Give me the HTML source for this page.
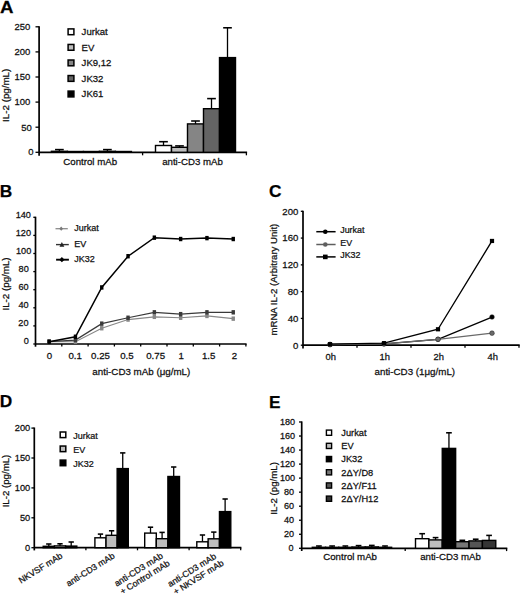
<!DOCTYPE html>
<html><head><meta charset="utf-8"><style>
html,body{margin:0;padding:0;background:#fff;}
body{width:520px;height:595px;overflow:hidden;}
svg{display:block;font-family:"Liberation Sans", sans-serif;}
text{stroke:#111;stroke-width:0.25px;}
</style></head><body>
<svg width="520" height="595" viewBox="0 0 520 595">
<rect x="0" y="0" width="520" height="595" fill="#fff"/>
<text transform="translate(0.10,12.70) scale(1.08,1)" font-size="17.3" font-weight="bold" fill="#000">A</text>
<line x1="39.10" y1="155.80" x2="39.10" y2="26.20" stroke="#000" stroke-width="1.7" />
<line x1="35.50" y1="152.30" x2="39.10" y2="152.30" stroke="#000" stroke-width="1.3" />
<text transform="translate(33.50,155.39) scale(1.03,1)" font-size="9.2" text-anchor="end" font-weight="normal" fill="#111">0</text>
<line x1="35.50" y1="127.20" x2="39.10" y2="127.20" stroke="#000" stroke-width="1.3" />
<text transform="translate(31.90,131.09) scale(1.03,1)" font-size="9.2" text-anchor="end" font-weight="normal" fill="#111">50</text>
<line x1="35.50" y1="102.10" x2="39.10" y2="102.10" stroke="#000" stroke-width="1.3" />
<text transform="translate(30.30,105.39) scale(1.03,1)" font-size="9.2" text-anchor="end" font-weight="normal" fill="#111">100</text>
<line x1="35.50" y1="77.00" x2="39.10" y2="77.00" stroke="#000" stroke-width="1.3" />
<text transform="translate(30.30,80.29) scale(1.03,1)" font-size="9.2" text-anchor="end" font-weight="normal" fill="#111">150</text>
<line x1="35.50" y1="51.90" x2="39.10" y2="51.90" stroke="#000" stroke-width="1.3" />
<text transform="translate(30.30,55.19) scale(1.03,1)" font-size="9.2" text-anchor="end" font-weight="normal" fill="#111">200</text>
<line x1="35.50" y1="26.80" x2="39.10" y2="26.80" stroke="#000" stroke-width="1.3" />
<text transform="translate(30.30,30.09) scale(1.03,1)" font-size="9.2" text-anchor="end" font-weight="normal" fill="#111">250</text>
<line x1="39.10" y1="152.30" x2="247.10" y2="152.30" stroke="#000" stroke-width="1.7" />
<line x1="142.60" y1="152.30" x2="142.60" y2="155.30" stroke="#000" stroke-width="1.3" />
<line x1="246.40" y1="152.30" x2="246.40" y2="155.30" stroke="#000" stroke-width="1.3" />
<text transform="translate(8.90,95.30) rotate(-90) scale(1.03,1)" font-size="9.5" text-anchor="middle" fill="#111">IL-2 (pg/mL)</text>
<text transform="translate(90.20,165.20) scale(1.03,1)" font-size="9.4" text-anchor="middle" font-weight="normal" fill="#111">Control mAb</text>
<text transform="translate(192.50,165.20) scale(1.03,1)" font-size="9.4" text-anchor="middle" font-weight="normal" fill="#111">anti-CD3 mAb</text>
<line x1="59.40" y1="151.30" x2="59.40" y2="149.60" stroke="#000" stroke-width="1.3" />
<line x1="55.05" y1="149.60" x2="63.75" y2="149.60" stroke="#000" stroke-width="1.56" />
<rect x="51.40" y="151.30" width="16.00" height="1.00" fill="#ffffff" stroke="#000" stroke-width="1.4"/>
<rect x="67.40" y="151.50" width="16.00" height="0.80" fill="#bdbdbd" stroke="#000" stroke-width="1.4"/>
<rect x="83.40" y="151.50" width="16.00" height="0.80" fill="#858585" stroke="#000" stroke-width="1.4"/>
<line x1="107.40" y1="151.30" x2="107.40" y2="149.60" stroke="#000" stroke-width="1.3" />
<line x1="103.05" y1="149.60" x2="111.75" y2="149.60" stroke="#000" stroke-width="1.56" />
<rect x="99.40" y="151.30" width="16.00" height="1.00" fill="#646464" stroke="#000" stroke-width="1.4"/>
<rect x="115.40" y="151.50" width="16.00" height="0.80" fill="#000000" stroke="#000" stroke-width="1.4"/>
<line x1="163.50" y1="145.50" x2="163.50" y2="141.70" stroke="#000" stroke-width="1.3" />
<line x1="159.15" y1="141.70" x2="167.85" y2="141.70" stroke="#000" stroke-width="1.56" />
<rect x="155.50" y="145.50" width="16.00" height="6.80" fill="#ffffff" stroke="#000" stroke-width="1.4"/>
<line x1="179.50" y1="147.30" x2="179.50" y2="145.90" stroke="#000" stroke-width="1.3" />
<line x1="175.15" y1="145.90" x2="183.85" y2="145.90" stroke="#000" stroke-width="1.56" />
<rect x="171.50" y="147.30" width="16.00" height="5.00" fill="#bdbdbd" stroke="#000" stroke-width="1.4"/>
<line x1="195.50" y1="123.90" x2="195.50" y2="121.00" stroke="#000" stroke-width="1.3" />
<line x1="191.15" y1="121.00" x2="199.85" y2="121.00" stroke="#000" stroke-width="1.56" />
<rect x="187.50" y="123.90" width="16.00" height="28.40" fill="#858585" stroke="#000" stroke-width="1.4"/>
<line x1="211.50" y1="108.70" x2="211.50" y2="98.60" stroke="#000" stroke-width="1.3" />
<line x1="207.15" y1="98.60" x2="215.85" y2="98.60" stroke="#000" stroke-width="1.56" />
<rect x="203.50" y="108.70" width="16.00" height="43.60" fill="#646464" stroke="#000" stroke-width="1.4"/>
<line x1="227.50" y1="57.60" x2="227.50" y2="27.80" stroke="#000" stroke-width="1.3" />
<line x1="223.15" y1="27.80" x2="231.85" y2="27.80" stroke="#000" stroke-width="1.56" />
<rect x="219.50" y="57.60" width="16.00" height="94.70" fill="#000000" stroke="#000" stroke-width="1.4"/>
<rect x="68.10" y="28.90" width="5.80" height="5.80" fill="#ffffff" stroke="#000" stroke-width="1.5"/>
<text transform="translate(81.60,35.10) scale(1.03,1)" font-size="9.3" text-anchor="start" font-weight="normal" fill="#111">Jurkat</text>
<rect x="68.10" y="44.45" width="5.80" height="5.80" fill="#bdbdbd" stroke="#000" stroke-width="1.5"/>
<text transform="translate(81.60,50.65) scale(1.03,1)" font-size="9.3" text-anchor="start" font-weight="normal" fill="#111">EV</text>
<rect x="68.10" y="60.00" width="5.80" height="5.80" fill="#858585" stroke="#000" stroke-width="1.5"/>
<text transform="translate(81.60,66.20) scale(1.03,1)" font-size="9.3" text-anchor="start" font-weight="normal" fill="#111">JK9,12</text>
<rect x="68.10" y="75.55" width="5.80" height="5.80" fill="#646464" stroke="#000" stroke-width="1.5"/>
<text transform="translate(81.60,81.75) scale(1.03,1)" font-size="9.3" text-anchor="start" font-weight="normal" fill="#111">JK32</text>
<rect x="68.10" y="91.10" width="5.80" height="5.80" fill="#000000" stroke="#000" stroke-width="1.5"/>
<text transform="translate(81.60,97.30) scale(1.03,1)" font-size="9.3" text-anchor="start" font-weight="normal" fill="#111">JK61</text>
<text transform="translate(-0.20,197.20) scale(1.0,1)" font-size="17.3" font-weight="bold" fill="#000">B</text>
<line x1="35.50" y1="346.70" x2="35.50" y2="216.70" stroke="#000" stroke-width="1.7" />
<line x1="33.30" y1="344.00" x2="35.50" y2="344.00" stroke="#000" stroke-width="1.3" />
<text transform="translate(28.90,344.40) scale(1.03,1)" font-size="8.9" text-anchor="end" font-weight="normal" fill="#111">0</text>
<line x1="33.30" y1="325.90" x2="35.50" y2="325.90" stroke="#000" stroke-width="1.3" />
<text transform="translate(28.50,326.30) scale(1.03,1)" font-size="8.9" text-anchor="end" font-weight="normal" fill="#111">20</text>
<line x1="33.30" y1="307.80" x2="35.50" y2="307.80" stroke="#000" stroke-width="1.3" />
<text transform="translate(28.60,308.20) scale(1.03,1)" font-size="8.9" text-anchor="end" font-weight="normal" fill="#111">40</text>
<line x1="33.30" y1="289.70" x2="35.50" y2="289.70" stroke="#000" stroke-width="1.3" />
<text transform="translate(28.70,290.10) scale(1.03,1)" font-size="8.9" text-anchor="end" font-weight="normal" fill="#111">60</text>
<line x1="33.30" y1="271.60" x2="35.50" y2="271.60" stroke="#000" stroke-width="1.3" />
<text transform="translate(28.80,272.00) scale(1.03,1)" font-size="8.9" text-anchor="end" font-weight="normal" fill="#111">80</text>
<line x1="33.30" y1="253.50" x2="35.50" y2="253.50" stroke="#000" stroke-width="1.3" />
<text transform="translate(31.30,253.90) scale(1.03,1)" font-size="8.9" text-anchor="end" font-weight="normal" fill="#111">100</text>
<line x1="33.30" y1="235.40" x2="35.50" y2="235.40" stroke="#000" stroke-width="1.3" />
<text transform="translate(31.00,235.80) scale(1.03,1)" font-size="8.9" text-anchor="end" font-weight="normal" fill="#111">120</text>
<line x1="33.30" y1="217.30" x2="35.50" y2="217.30" stroke="#000" stroke-width="1.3" />
<text transform="translate(30.90,217.70) scale(1.03,1)" font-size="8.9" text-anchor="end" font-weight="normal" fill="#111">140</text>
<line x1="35.50" y1="344.00" x2="246.60" y2="344.00" stroke="#000" stroke-width="1.7" />
<line x1="61.80" y1="344.00" x2="61.80" y2="346.50" stroke="#000" stroke-width="1.3" />
<line x1="88.10" y1="344.00" x2="88.10" y2="346.50" stroke="#000" stroke-width="1.3" />
<line x1="114.40" y1="344.00" x2="114.40" y2="346.50" stroke="#000" stroke-width="1.3" />
<line x1="140.70" y1="344.00" x2="140.70" y2="346.50" stroke="#000" stroke-width="1.3" />
<line x1="167.00" y1="344.00" x2="167.00" y2="346.50" stroke="#000" stroke-width="1.3" />
<line x1="193.30" y1="344.00" x2="193.30" y2="346.50" stroke="#000" stroke-width="1.3" />
<line x1="219.60" y1="344.00" x2="219.60" y2="346.50" stroke="#000" stroke-width="1.3" />
<line x1="245.90" y1="344.00" x2="245.90" y2="346.50" stroke="#000" stroke-width="1.3" />
<text transform="translate(9.20,284.00) rotate(-90) scale(1.03,1)" font-size="9.5" text-anchor="middle" fill="#111">IL-2 (pg/mL)</text>
<text transform="translate(49.50,359.30) scale(1.03,1)" font-size="9.4" text-anchor="middle" font-weight="normal" fill="#111">0</text>
<text transform="translate(75.20,359.30) scale(1.03,1)" font-size="9.4" text-anchor="middle" font-weight="normal" fill="#111">0.1</text>
<text transform="translate(100.50,359.30) scale(1.03,1)" font-size="9.4" text-anchor="middle" font-weight="normal" fill="#111">0.25</text>
<text transform="translate(126.90,359.30) scale(1.03,1)" font-size="9.4" text-anchor="middle" font-weight="normal" fill="#111">0.5</text>
<text transform="translate(155.60,359.30) scale(1.03,1)" font-size="9.4" text-anchor="middle" font-weight="normal" fill="#111">0.75</text>
<text transform="translate(181.30,359.30) scale(1.03,1)" font-size="9.4" text-anchor="middle" font-weight="normal" fill="#111">1</text>
<text transform="translate(208.60,359.30) scale(1.03,1)" font-size="9.4" text-anchor="middle" font-weight="normal" fill="#111">1.5</text>
<text transform="translate(234.40,359.30) scale(1.03,1)" font-size="9.4" text-anchor="middle" font-weight="normal" fill="#111">2</text>
<text transform="translate(141.30,374.70) scale(1.03,1)" font-size="9.5" text-anchor="middle" font-weight="normal" fill="#111">anti-CD3 mAb (μg/mL)</text>
<polyline points="49.15,341.74 75.45,341.74 101.75,328.25 128.05,319.56 154.35,316.85 180.65,317.75 206.95,315.94 233.25,318.66" fill="none" stroke="#888888" stroke-width="1.15"/>
<rect x="47.45" y="339.54" width="3.4" height="4.4" fill="#888888"/>
<rect x="73.75" y="339.54" width="3.4" height="4.4" fill="#888888"/>
<rect x="100.05" y="326.05" width="3.4" height="4.4" fill="#888888"/>
<rect x="126.35" y="317.37" width="3.4" height="4.4" fill="#888888"/>
<rect x="152.65" y="314.65" width="3.4" height="4.4" fill="#888888"/>
<rect x="178.95" y="315.56" width="3.4" height="4.4" fill="#888888"/>
<rect x="205.25" y="313.75" width="3.4" height="4.4" fill="#888888"/>
<rect x="231.55" y="316.46" width="3.4" height="4.4" fill="#888888"/>
<polyline points="49.15,341.74 75.45,340.02 101.75,323.64 128.05,317.75 154.35,312.32 180.65,314.13 206.95,312.32 233.25,312.32" fill="none" stroke="#3a3a3a" stroke-width="1.25"/>
<rect x="47.45" y="339.54" width="3.4" height="4.4" fill="#3a3a3a"/>
<rect x="73.75" y="337.82" width="3.4" height="4.4" fill="#3a3a3a"/>
<rect x="100.05" y="321.44" width="3.4" height="4.4" fill="#3a3a3a"/>
<rect x="126.35" y="315.56" width="3.4" height="4.4" fill="#3a3a3a"/>
<rect x="152.65" y="310.12" width="3.4" height="4.4" fill="#3a3a3a"/>
<rect x="178.95" y="311.94" width="3.4" height="4.4" fill="#3a3a3a"/>
<rect x="205.25" y="310.12" width="3.4" height="4.4" fill="#3a3a3a"/>
<rect x="231.55" y="310.12" width="3.4" height="4.4" fill="#3a3a3a"/>
<polyline points="49.15,341.74 75.45,336.76 101.75,287.44 128.05,256.22 154.35,237.66 180.65,239.02 206.95,238.12 233.25,239.02" fill="none" stroke="#000000" stroke-width="1.5"/>
<rect x="47.45" y="339.54" width="3.4" height="4.4" fill="#000000"/>
<rect x="73.75" y="334.56" width="3.4" height="4.4" fill="#000000"/>
<rect x="100.05" y="285.24" width="3.4" height="4.4" fill="#000000"/>
<rect x="126.35" y="254.02" width="3.4" height="4.4" fill="#000000"/>
<rect x="152.65" y="235.46" width="3.4" height="4.4" fill="#000000"/>
<rect x="178.95" y="236.82" width="3.4" height="4.4" fill="#000000"/>
<rect x="205.25" y="235.92" width="3.4" height="4.4" fill="#000000"/>
<rect x="231.55" y="236.82" width="3.4" height="4.4" fill="#000000"/>
<line x1="55.50" y1="228.70" x2="67.80" y2="228.70" stroke="#8c8c8c" stroke-width="1.3" />
<path d="M61.2,226.6 L63.1,228.7 L61.2,230.8 L59.3,228.7 Z" fill="#7a7a7a"/>
<line x1="56.00" y1="244.60" x2="68.80" y2="244.60" stroke="#333" stroke-width="1.4" />
<path d="M61.9,242.0 L64.3,246.8 L59.5,246.8 Z" fill="#222"/>
<line x1="56.10" y1="259.70" x2="68.90" y2="259.70" stroke="#000" stroke-width="1.9" />
<path d="M61.9,257.1 L64.5,259.7 L61.9,262.3 L59.3,259.7 Z" fill="#000"/>
<text transform="translate(74.30,231.00) scale(1.0,1)" font-size="9.0" text-anchor="start" font-weight="normal" fill="#111">Jurkat</text>
<text transform="translate(74.30,246.90) scale(1.0,1)" font-size="9.0" text-anchor="start" font-weight="normal" fill="#111">EV</text>
<text transform="translate(74.30,261.90) scale(1.0,1)" font-size="9.0" text-anchor="start" font-weight="normal" fill="#111">JK32</text>
<text transform="translate(269.00,197.20) scale(1.0,1)" font-size="17.3" font-weight="bold" fill="#000">C</text>
<line x1="303.00" y1="348.50" x2="303.00" y2="210.70" stroke="#000" stroke-width="1.7" />
<line x1="300.80" y1="345.20" x2="303.00" y2="345.20" stroke="#000" stroke-width="1.3" />
<text transform="translate(298.30,348.53) scale(1.03,1)" font-size="9.3" text-anchor="end" font-weight="normal" fill="#111">0</text>
<line x1="300.80" y1="318.42" x2="303.00" y2="318.42" stroke="#000" stroke-width="1.3" />
<text transform="translate(298.30,321.75) scale(1.03,1)" font-size="9.3" text-anchor="end" font-weight="normal" fill="#111">40</text>
<line x1="300.80" y1="291.64" x2="303.00" y2="291.64" stroke="#000" stroke-width="1.3" />
<text transform="translate(298.30,294.97) scale(1.03,1)" font-size="9.3" text-anchor="end" font-weight="normal" fill="#111">80</text>
<line x1="300.80" y1="264.86" x2="303.00" y2="264.86" stroke="#000" stroke-width="1.3" />
<text transform="translate(298.30,268.19) scale(1.03,1)" font-size="9.3" text-anchor="end" font-weight="normal" fill="#111">120</text>
<line x1="300.80" y1="238.08" x2="303.00" y2="238.08" stroke="#000" stroke-width="1.3" />
<text transform="translate(298.30,241.41) scale(1.03,1)" font-size="9.3" text-anchor="end" font-weight="normal" fill="#111">160</text>
<line x1="300.80" y1="211.30" x2="303.00" y2="211.30" stroke="#000" stroke-width="1.3" />
<text transform="translate(298.30,214.63) scale(1.03,1)" font-size="9.3" text-anchor="end" font-weight="normal" fill="#111">200</text>
<line x1="303.00" y1="345.20" x2="519.70" y2="345.20" stroke="#000" stroke-width="1.7" />
<line x1="357.00" y1="345.20" x2="357.00" y2="347.70" stroke="#000" stroke-width="1.3" />
<line x1="411.00" y1="345.20" x2="411.00" y2="347.70" stroke="#000" stroke-width="1.3" />
<line x1="465.00" y1="345.20" x2="465.00" y2="347.70" stroke="#000" stroke-width="1.3" />
<line x1="519.00" y1="345.20" x2="519.00" y2="347.70" stroke="#000" stroke-width="1.3" />
<text transform="translate(277.40,279.60) rotate(-90) scale(1.03,1)" font-size="9.3" text-anchor="middle" fill="#111">mRNA IL-2 (Arbitrary Unit)</text>
<text transform="translate(330.70,360.00) scale(1.03,1)" font-size="9.1" text-anchor="middle" font-weight="normal" fill="#111">0h</text>
<text transform="translate(384.70,360.00) scale(1.03,1)" font-size="9.1" text-anchor="middle" font-weight="normal" fill="#111">1h</text>
<text transform="translate(438.70,360.00) scale(1.03,1)" font-size="9.1" text-anchor="middle" font-weight="normal" fill="#111">2h</text>
<text transform="translate(492.70,360.00) scale(1.03,1)" font-size="9.1" text-anchor="middle" font-weight="normal" fill="#111">4h</text>
<text transform="translate(414.80,375.00) scale(1.03,1)" font-size="9.5" text-anchor="middle" font-weight="normal" fill="#111">anti-CD3 (1μg/mL)</text>
<polyline points="330.00,344.53 384.00,343.86 438.00,339.31 492.00,317.01" fill="none" stroke="#000" stroke-width="1.35"/>
<circle cx="330.00" cy="344.53" r="2.35" fill="#000" stroke="#222" stroke-width="0.5"/>
<circle cx="384.00" cy="343.86" r="2.35" fill="#000" stroke="#222" stroke-width="0.5"/>
<circle cx="438.00" cy="339.31" r="2.35" fill="#000" stroke="#222" stroke-width="0.5"/>
<circle cx="492.00" cy="317.01" r="2.35" fill="#000" stroke="#222" stroke-width="0.5"/>
<polyline points="330.00,344.53 384.00,343.86 438.00,339.31 492.00,333.15" fill="none" stroke="#6a6a6a" stroke-width="1.35"/>
<circle cx="330.00" cy="344.53" r="2.35" fill="#6a6a6a" stroke="#222" stroke-width="0.5"/>
<circle cx="384.00" cy="343.86" r="2.35" fill="#6a6a6a" stroke="#222" stroke-width="0.5"/>
<circle cx="438.00" cy="339.31" r="2.35" fill="#6a6a6a" stroke="#222" stroke-width="0.5"/>
<circle cx="492.00" cy="333.15" r="2.35" fill="#6a6a6a" stroke="#222" stroke-width="0.5"/>
<polyline points="330.00,344.20 384.00,343.19 438.00,329.27 492.00,240.96" fill="none" stroke="#000" stroke-width="1.35"/>
<rect x="327.90" y="342.10" width="4.2" height="4.2" fill="#000"/>
<rect x="381.90" y="341.09" width="4.2" height="4.2" fill="#000"/>
<rect x="435.90" y="327.17" width="4.2" height="4.2" fill="#000"/>
<rect x="489.90" y="238.86" width="4.2" height="4.2" fill="#000"/>
<line x1="316.30" y1="231.70" x2="335.60" y2="231.70" stroke="#000" stroke-width="1.5" />
<circle cx="325.3" cy="231.70" r="2.3" fill="#000"/>
<text transform="translate(340.20,233.00) scale(0.99,1)" font-size="9.0" text-anchor="start" font-weight="normal" fill="#111">Jurkat</text>
<line x1="316.30" y1="244.50" x2="335.60" y2="244.50" stroke="#5e5e5e" stroke-width="1.5" />
<circle cx="325.3" cy="244.50" r="2.3" fill="#5e5e5e"/>
<text transform="translate(340.20,245.80) scale(0.99,1)" font-size="9.0" text-anchor="start" font-weight="normal" fill="#111">EV</text>
<line x1="316.30" y1="256.90" x2="335.60" y2="256.90" stroke="#000" stroke-width="1.5" />
<rect x="323.00" y="254.60" width="4.6" height="4.6" fill="#000"/>
<text transform="translate(340.20,258.20) scale(0.99,1)" font-size="9.0" text-anchor="start" font-weight="normal" fill="#111">JK32</text>
<text transform="translate(-0.30,407.40) scale(1.0,1)" font-size="17.3" font-weight="bold" fill="#000">D</text>
<line x1="34.30" y1="550.40" x2="34.30" y2="427.50" stroke="#000" stroke-width="1.7" />
<line x1="31.40" y1="547.70" x2="34.30" y2="547.70" stroke="#000" stroke-width="1.3" />
<text transform="translate(30.20,550.92) scale(1.03,1)" font-size="9.0" text-anchor="end" font-weight="normal" fill="#111">0</text>
<line x1="31.40" y1="517.80" x2="34.30" y2="517.80" stroke="#000" stroke-width="1.3" />
<text transform="translate(30.20,521.02) scale(1.03,1)" font-size="9.0" text-anchor="end" font-weight="normal" fill="#111">50</text>
<line x1="31.40" y1="487.90" x2="34.30" y2="487.90" stroke="#000" stroke-width="1.3" />
<text transform="translate(30.20,491.12) scale(1.03,1)" font-size="9.0" text-anchor="end" font-weight="normal" fill="#111">100</text>
<line x1="31.40" y1="458.00" x2="34.30" y2="458.00" stroke="#000" stroke-width="1.3" />
<text transform="translate(30.20,461.22) scale(1.03,1)" font-size="9.0" text-anchor="end" font-weight="normal" fill="#111">150</text>
<line x1="31.40" y1="428.10" x2="34.30" y2="428.10" stroke="#000" stroke-width="1.3" />
<text transform="translate(30.20,431.32) scale(1.03,1)" font-size="9.0" text-anchor="end" font-weight="normal" fill="#111">200</text>
<line x1="34.30" y1="547.70" x2="241.40" y2="547.70" stroke="#000" stroke-width="1.7" />
<line x1="85.90" y1="547.70" x2="85.90" y2="550.30" stroke="#000" stroke-width="1.3" />
<line x1="137.50" y1="547.70" x2="137.50" y2="550.30" stroke="#000" stroke-width="1.3" />
<line x1="189.10" y1="547.70" x2="189.10" y2="550.30" stroke="#000" stroke-width="1.3" />
<line x1="240.70" y1="547.70" x2="240.70" y2="550.30" stroke="#000" stroke-width="1.3" />
<text transform="translate(8.50,481.00) rotate(-90) scale(1.03,1)" font-size="9.4" text-anchor="middle" fill="#111">IL-2 (pg/mL)</text>
<line x1="48.80" y1="546.30" x2="48.80" y2="544.00" stroke="#000" stroke-width="1.3" />
<line x1="46.15" y1="544.00" x2="51.45" y2="544.00" stroke="#000" stroke-width="1.56" />
<rect x="43.20" y="546.30" width="11.20" height="1.40" fill="#ffffff" stroke="#000" stroke-width="1.4"/>
<line x1="60.00" y1="545.90" x2="60.00" y2="543.80" stroke="#000" stroke-width="1.3" />
<line x1="57.35" y1="543.80" x2="62.65" y2="543.80" stroke="#000" stroke-width="1.56" />
<rect x="54.40" y="545.90" width="11.20" height="1.80" fill="#bdbdbd" stroke="#000" stroke-width="1.4"/>
<line x1="71.20" y1="546.10" x2="71.20" y2="542.00" stroke="#000" stroke-width="1.3" />
<line x1="68.55" y1="542.00" x2="73.85" y2="542.00" stroke="#000" stroke-width="1.56" />
<rect x="65.60" y="546.10" width="11.20" height="1.60" fill="#000000" stroke="#000" stroke-width="1.4"/>
<line x1="100.47" y1="537.80" x2="100.47" y2="534.10" stroke="#000" stroke-width="1.3" />
<line x1="97.81" y1="534.10" x2="103.12" y2="534.10" stroke="#000" stroke-width="1.56" />
<rect x="94.90" y="537.80" width="11.13" height="9.90" fill="#ffffff" stroke="#000" stroke-width="1.4"/>
<line x1="111.59" y1="535.30" x2="111.59" y2="530.80" stroke="#000" stroke-width="1.3" />
<line x1="108.94" y1="530.80" x2="114.25" y2="530.80" stroke="#000" stroke-width="1.56" />
<rect x="106.03" y="535.30" width="11.13" height="12.40" fill="#bdbdbd" stroke="#000" stroke-width="1.4"/>
<line x1="122.73" y1="468.60" x2="122.73" y2="452.90" stroke="#000" stroke-width="1.3" />
<line x1="120.08" y1="452.90" x2="125.38" y2="452.90" stroke="#000" stroke-width="1.56" />
<rect x="117.16" y="468.60" width="11.13" height="79.10" fill="#000000" stroke="#000" stroke-width="1.4"/>
<line x1="150.50" y1="533.10" x2="150.50" y2="527.20" stroke="#000" stroke-width="1.3" />
<line x1="147.85" y1="527.20" x2="153.15" y2="527.20" stroke="#000" stroke-width="1.56" />
<rect x="144.70" y="533.10" width="11.60" height="14.60" fill="#ffffff" stroke="#000" stroke-width="1.4"/>
<line x1="162.10" y1="538.70" x2="162.10" y2="532.40" stroke="#000" stroke-width="1.3" />
<line x1="159.45" y1="532.40" x2="164.75" y2="532.40" stroke="#000" stroke-width="1.56" />
<rect x="156.30" y="538.70" width="11.60" height="9.00" fill="#bdbdbd" stroke="#000" stroke-width="1.4"/>
<line x1="173.70" y1="476.50" x2="173.70" y2="467.00" stroke="#000" stroke-width="1.3" />
<line x1="171.05" y1="467.00" x2="176.35" y2="467.00" stroke="#000" stroke-width="1.56" />
<rect x="167.90" y="476.50" width="11.60" height="71.20" fill="#000000" stroke="#000" stroke-width="1.4"/>
<line x1="202.47" y1="541.80" x2="202.47" y2="535.00" stroke="#000" stroke-width="1.3" />
<line x1="199.81" y1="535.00" x2="205.12" y2="535.00" stroke="#000" stroke-width="1.56" />
<rect x="196.80" y="541.80" width="11.33" height="5.90" fill="#ffffff" stroke="#000" stroke-width="1.4"/>
<line x1="213.80" y1="538.80" x2="213.80" y2="532.10" stroke="#000" stroke-width="1.3" />
<line x1="211.15" y1="532.10" x2="216.45" y2="532.10" stroke="#000" stroke-width="1.56" />
<rect x="208.13" y="538.80" width="11.33" height="8.90" fill="#bdbdbd" stroke="#000" stroke-width="1.4"/>
<line x1="225.12" y1="511.60" x2="225.12" y2="499.00" stroke="#000" stroke-width="1.3" />
<line x1="222.47" y1="499.00" x2="227.78" y2="499.00" stroke="#000" stroke-width="1.56" />
<rect x="219.46" y="511.60" width="11.33" height="36.10" fill="#000000" stroke="#000" stroke-width="1.4"/>
<rect x="60.20" y="432.00" width="5.60" height="5.60" fill="#ffffff" stroke="#000" stroke-width="1.5"/>
<text transform="translate(73.20,438.50) scale(0.99,1)" font-size="9.1" text-anchor="start" font-weight="normal" fill="#111">Jurkat</text>
<rect x="60.20" y="446.05" width="5.60" height="5.60" fill="#bdbdbd" stroke="#000" stroke-width="1.5"/>
<text transform="translate(73.20,452.55) scale(0.99,1)" font-size="9.1" text-anchor="start" font-weight="normal" fill="#111">EV</text>
<rect x="60.20" y="460.10" width="5.60" height="5.60" fill="#000000" stroke="#000" stroke-width="1.5"/>
<text transform="translate(73.20,466.60) scale(0.99,1)" font-size="9.1" text-anchor="start" font-weight="normal" fill="#111">JK32</text>
<text transform="translate(20.90,583.80) rotate(-32)" x="0" y="0" font-size="8.8" fill="#111">NKVSF mAb</text>
<text transform="translate(68.50,586.80) rotate(-32)" x="0" y="0" font-size="8.8" fill="#111">anti-CD3 mAb</text>
<text transform="translate(116.70,586.80) rotate(-32)" x="0" y="0" font-size="8.8" fill="#111">anti-CD3 mAb</text>
<text transform="translate(122.40,594.80) rotate(-32)" x="0" y="0" font-size="8.8" fill="#111">+ Control mAb</text>
<text transform="translate(170.00,587.30) rotate(-32)" x="0" y="0" font-size="8.8" fill="#111">anti-CD3 mAb</text>
<text transform="translate(175.70,595.10) rotate(-32)" x="0" y="0" font-size="8.8" fill="#111">+ NKVSF mAb</text>
<text transform="translate(269.00,407.50) scale(1.0,1)" font-size="17.3" font-weight="bold" fill="#000">E</text>
<line x1="301.70" y1="551.00" x2="301.70" y2="421.39" stroke="#000" stroke-width="1.7" />
<line x1="299.00" y1="548.30" x2="301.70" y2="548.30" stroke="#000" stroke-width="1.3" />
<text transform="translate(293.60,551.05) scale(1.03,1)" font-size="8.8" text-anchor="end" font-weight="normal" fill="#111">0</text>
<line x1="299.00" y1="534.27" x2="301.70" y2="534.27" stroke="#000" stroke-width="1.3" />
<text transform="translate(294.00,537.02) scale(1.03,1)" font-size="8.8" text-anchor="end" font-weight="normal" fill="#111">20</text>
<line x1="299.00" y1="520.23" x2="301.70" y2="520.23" stroke="#000" stroke-width="1.3" />
<text transform="translate(294.00,522.98) scale(1.03,1)" font-size="8.8" text-anchor="end" font-weight="normal" fill="#111">40</text>
<line x1="299.00" y1="506.20" x2="301.70" y2="506.20" stroke="#000" stroke-width="1.3" />
<text transform="translate(294.00,508.95) scale(1.03,1)" font-size="8.8" text-anchor="end" font-weight="normal" fill="#111">60</text>
<line x1="299.00" y1="492.16" x2="301.70" y2="492.16" stroke="#000" stroke-width="1.3" />
<text transform="translate(294.00,494.91) scale(1.03,1)" font-size="8.8" text-anchor="end" font-weight="normal" fill="#111">80</text>
<line x1="299.00" y1="478.13" x2="301.70" y2="478.13" stroke="#000" stroke-width="1.3" />
<text transform="translate(295.00,480.88) scale(1.03,1)" font-size="8.8" text-anchor="end" font-weight="normal" fill="#111">100</text>
<line x1="299.00" y1="464.10" x2="301.70" y2="464.10" stroke="#000" stroke-width="1.3" />
<text transform="translate(295.00,466.85) scale(1.03,1)" font-size="8.8" text-anchor="end" font-weight="normal" fill="#111">120</text>
<line x1="299.00" y1="450.06" x2="301.70" y2="450.06" stroke="#000" stroke-width="1.3" />
<text transform="translate(295.00,452.81) scale(1.03,1)" font-size="8.8" text-anchor="end" font-weight="normal" fill="#111">140</text>
<line x1="299.00" y1="436.03" x2="301.70" y2="436.03" stroke="#000" stroke-width="1.3" />
<text transform="translate(295.00,438.78) scale(1.03,1)" font-size="8.8" text-anchor="end" font-weight="normal" fill="#111">160</text>
<line x1="299.00" y1="421.99" x2="301.70" y2="421.99" stroke="#000" stroke-width="1.3" />
<text transform="translate(295.00,424.74) scale(1.03,1)" font-size="8.8" text-anchor="end" font-weight="normal" fill="#111">180</text>
<line x1="301.70" y1="548.30" x2="507.30" y2="548.30" stroke="#000" stroke-width="1.7" />
<line x1="405.20" y1="548.30" x2="405.20" y2="551.10" stroke="#000" stroke-width="1.3" />
<line x1="506.60" y1="548.30" x2="506.60" y2="551.10" stroke="#000" stroke-width="1.3" />
<text transform="translate(277.00,488.40) rotate(-90) scale(1.03,1)" font-size="9.4" text-anchor="middle" fill="#111">IL-2 (pg/mL)</text>
<text transform="translate(350.10,560.40) scale(1.03,1)" font-size="9.4" text-anchor="middle" font-weight="normal" fill="#111">Control mAb</text>
<text transform="translate(450.50,560.40) scale(1.03,1)" font-size="9.4" text-anchor="middle" font-weight="normal" fill="#111">anti-CD3 mAb</text>
<line x1="318.91" y1="547.30" x2="318.91" y2="546.00" stroke="#000" stroke-width="1.3" />
<line x1="316.06" y1="546.00" x2="321.76" y2="546.00" stroke="#000" stroke-width="1.56" />
<rect x="312.30" y="547.30" width="13.22" height="1.00" fill="#ffffff" stroke="#000" stroke-width="1.4"/>
<line x1="332.13" y1="547.30" x2="332.13" y2="546.00" stroke="#000" stroke-width="1.3" />
<line x1="329.28" y1="546.00" x2="334.98" y2="546.00" stroke="#000" stroke-width="1.56" />
<rect x="325.52" y="547.30" width="13.22" height="1.00" fill="#bdbdbd" stroke="#000" stroke-width="1.4"/>
<line x1="345.35" y1="547.30" x2="345.35" y2="546.00" stroke="#000" stroke-width="1.3" />
<line x1="342.50" y1="546.00" x2="348.20" y2="546.00" stroke="#000" stroke-width="1.56" />
<rect x="338.74" y="547.30" width="13.22" height="1.00" fill="#000000" stroke="#000" stroke-width="1.4"/>
<line x1="358.57" y1="547.00" x2="358.57" y2="545.60" stroke="#000" stroke-width="1.3" />
<line x1="355.72" y1="545.60" x2="361.42" y2="545.60" stroke="#000" stroke-width="1.56" />
<rect x="351.96" y="547.00" width="13.22" height="1.30" fill="#777777" stroke="#000" stroke-width="1.4"/>
<line x1="371.79" y1="546.90" x2="371.79" y2="545.40" stroke="#000" stroke-width="1.3" />
<line x1="368.94" y1="545.40" x2="374.64" y2="545.40" stroke="#000" stroke-width="1.56" />
<rect x="365.18" y="546.90" width="13.22" height="1.40" fill="#555555" stroke="#000" stroke-width="1.4"/>
<line x1="385.01" y1="547.30" x2="385.01" y2="546.00" stroke="#000" stroke-width="1.3" />
<line x1="382.16" y1="546.00" x2="387.86" y2="546.00" stroke="#000" stroke-width="1.56" />
<rect x="378.40" y="547.30" width="13.22" height="1.00" fill="#353535" stroke="#000" stroke-width="1.4"/>
<line x1="422.19" y1="538.70" x2="422.19" y2="533.70" stroke="#000" stroke-width="1.3" />
<line x1="419.34" y1="533.70" x2="425.04" y2="533.70" stroke="#000" stroke-width="1.56" />
<rect x="415.50" y="538.70" width="13.38" height="9.60" fill="#ffffff" stroke="#000" stroke-width="1.4"/>
<line x1="435.57" y1="539.90" x2="435.57" y2="537.60" stroke="#000" stroke-width="1.3" />
<line x1="432.72" y1="537.60" x2="438.42" y2="537.60" stroke="#000" stroke-width="1.56" />
<rect x="428.88" y="539.90" width="13.38" height="8.40" fill="#bdbdbd" stroke="#000" stroke-width="1.4"/>
<line x1="448.95" y1="448.40" x2="448.95" y2="432.80" stroke="#000" stroke-width="1.3" />
<line x1="446.10" y1="432.80" x2="451.80" y2="432.80" stroke="#000" stroke-width="1.56" />
<rect x="442.26" y="448.40" width="13.38" height="99.90" fill="#000000" stroke="#000" stroke-width="1.4"/>
<line x1="462.33" y1="541.70" x2="462.33" y2="540.30" stroke="#000" stroke-width="1.3" />
<line x1="459.48" y1="540.30" x2="465.18" y2="540.30" stroke="#000" stroke-width="1.56" />
<rect x="455.64" y="541.70" width="13.38" height="6.60" fill="#777777" stroke="#000" stroke-width="1.4"/>
<line x1="475.71" y1="540.90" x2="475.71" y2="539.20" stroke="#000" stroke-width="1.3" />
<line x1="472.86" y1="539.20" x2="478.56" y2="539.20" stroke="#000" stroke-width="1.56" />
<rect x="469.02" y="540.90" width="13.38" height="7.40" fill="#555555" stroke="#000" stroke-width="1.4"/>
<line x1="489.09" y1="540.40" x2="489.09" y2="535.40" stroke="#000" stroke-width="1.3" />
<line x1="486.24" y1="535.40" x2="491.94" y2="535.40" stroke="#000" stroke-width="1.56" />
<rect x="482.40" y="540.40" width="13.38" height="7.90" fill="#353535" stroke="#000" stroke-width="1.4"/>
<rect x="326.40" y="430.10" width="5.20" height="5.20" fill="#ffffff" stroke="#000" stroke-width="1.4"/>
<text transform="translate(341.30,435.90) scale(1.03,1)" font-size="9.0" text-anchor="start" font-weight="normal" fill="#111">Jurkat</text>
<rect x="326.40" y="443.30" width="5.20" height="5.20" fill="#bdbdbd" stroke="#000" stroke-width="1.4"/>
<text transform="translate(341.30,449.10) scale(1.03,1)" font-size="9.0" text-anchor="start" font-weight="normal" fill="#111">EV</text>
<rect x="326.40" y="456.50" width="5.20" height="5.20" fill="#000000" stroke="#000" stroke-width="1.4"/>
<text transform="translate(341.30,462.30) scale(1.03,1)" font-size="9.0" text-anchor="start" font-weight="normal" fill="#111">JK32</text>
<rect x="326.40" y="469.70" width="5.20" height="5.20" fill="#777777" stroke="#000" stroke-width="1.4"/>
<text transform="translate(341.30,475.50) scale(1.03,1)" font-size="9.0" text-anchor="start" font-weight="normal" fill="#111">2ΔY/D8</text>
<rect x="326.40" y="482.90" width="5.20" height="5.20" fill="#555555" stroke="#000" stroke-width="1.4"/>
<text transform="translate(341.30,488.70) scale(1.03,1)" font-size="9.0" text-anchor="start" font-weight="normal" fill="#111">2ΔY/F11</text>
<rect x="326.40" y="496.10" width="5.20" height="5.20" fill="#353535" stroke="#000" stroke-width="1.4"/>
<text transform="translate(341.30,501.90) scale(1.03,1)" font-size="9.0" text-anchor="start" font-weight="normal" fill="#111">2ΔY/H12</text>
</svg>
</body></html>
